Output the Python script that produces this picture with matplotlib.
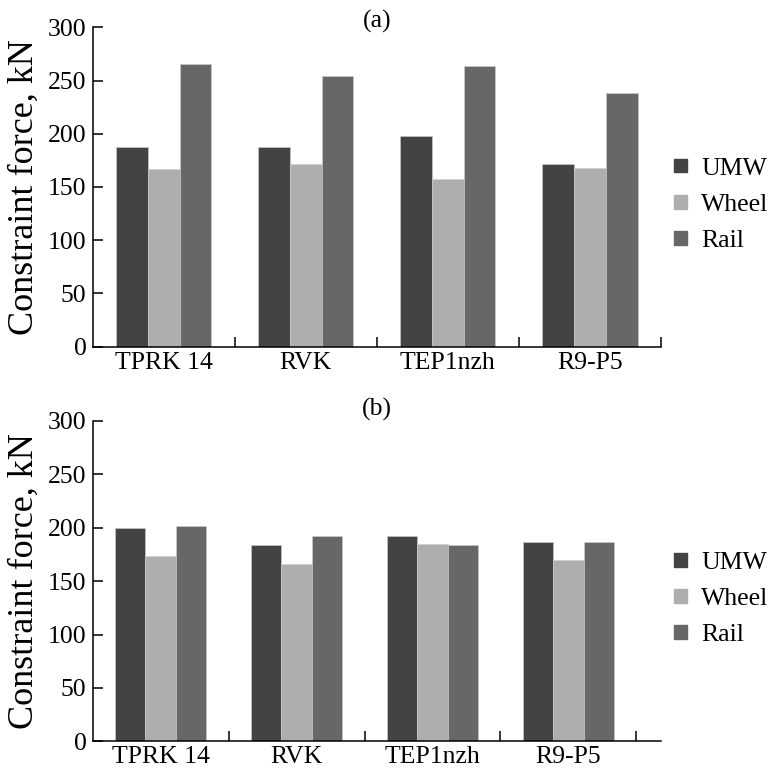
import numpy as np
import matplotlib.pyplot as plt
from matplotlib.patches import Patch

plt.rcParams['font.family'] = ['Liberation Serif', 'DejaVu Serif']

# data
locos = ['TPRK 14', 'RVK', 'TEP1nzh', 'R9-P5']
series = ['UMW', 'Wheel', 'Rail']
umw_a = [187.5, 187.5, 197.5, 171.5]
wheel_a = [166.5, 172, 157.5, 168]
rail_a = [266, 254, 264, 238]
umw_b = [200, 184, 192, 186.5]
wheel_b = [173.5, 166.5, 184.5, 170]
rail_b = [202, 192.5, 184, 187]

colors = ['#434341', '#adafad', '#676766']
fs = 18.5

fig = plt.figure(figsize=(7.72, 7.78), dpi=100)
ax1 = fig.add_axes([0.12, 0.5544, 0.736, 0.4105])
ax2 = fig.add_axes([0.12, 0.0472, 0.736, 0.4117])


def draw(ax, vals, xmax, title_y, title):
    x = np.arange(len(locos))
    bw = 0.224
    for i, v in enumerate(vals):
        ax.bar(x + (i - 1) * bw, v, bw, color=colors[i], edgecolor='#d0d0d0',
               linewidth=0.4, label=series[i])
    ax.set_xlim(-0.5, xmax)
    ax.set_ylim(0, 300)
    ax.set_yticks(range(0, 301, 50))
    ax.set_xticks(x)
    ax.set_xticklabels(locos)
    ax.set_xticks(x + 0.5, minor=True)
    ax.tick_params(axis='x', which='major', length=0, labelsize=fs, pad=3.5)
    ax.tick_params(axis='x', which='minor', direction='in', length=7, width=1.1)
    ax.tick_params(axis='y', direction='in', length=7, width=1.1, labelsize=fs, pad=4.5)
    for s in ['top', 'right']:
        ax.spines[s].set_visible(False)
    for s in ['left', 'bottom']:
        ax.spines[s].set_linewidth(1.1)
    ax.set_ylabel('Constraint force, kN', fontsize=26, labelpad=5)
    fig.text(0.488, title_y, title, ha='center', va='center', fontsize=fs)
    handles = [Patch(color=c) for c in colors]
    ax.legend(handles, series, loc='center left', bbox_to_anchor=(1.024, 0.444),
              frameon=False, fontsize=fs, handlelength=0.47, handleheight=0.45,
              handletextpad=0.58, labelspacing=0.55, borderpad=0, borderaxespad=0)


draw(ax1, [umw_a, wheel_a, rail_a], 3.5, 0.973, '(a)')
draw(ax2, [umw_b, wheel_b, rail_b], 3.68, 0.474, '(b)')

fig.savefig('out.png', dpi=100)
